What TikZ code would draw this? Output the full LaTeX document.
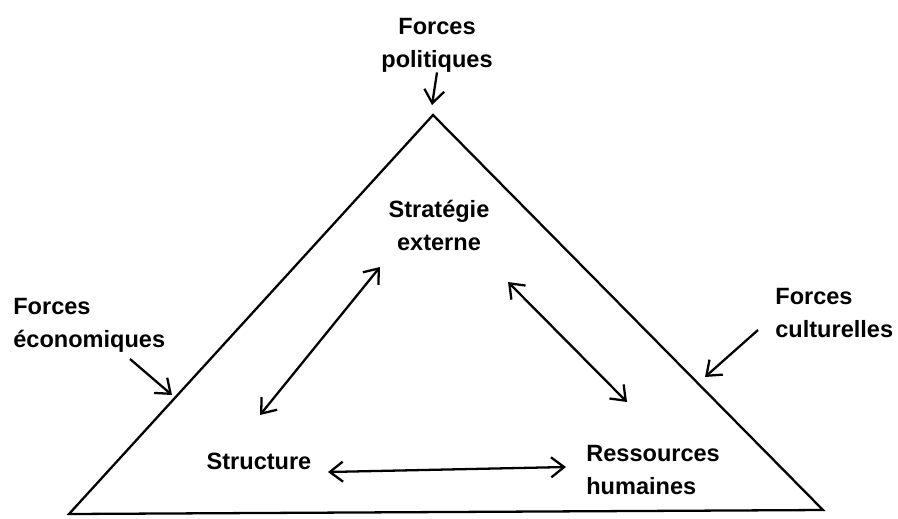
\documentclass[tikz,border=0pt]{standalone}
\usepackage{fontspec}
\setmainfont{Liberation Sans}
\usepackage{tikz}
\usetikzlibrary{arrows.meta}
\tikzset{
  frame/.style={line width=1.3pt, draw=black, line join=miter},
  push/.style={-{Straight Barb[length=2.6mm, width=4mm, line width=1.3pt]}, line width=1.3pt},
  link/.style={{Straight Barb[length=2.6mm, width=4mm, line width=1.3pt]}-{Straight Barb[length=2.6mm, width=4mm, line width=1.3pt]}, line width=1.3pt},
  force/.style={inner sep=0pt, font=\fontsize{13.4}{18.8}\selectfont\bfseries},
  pole/.style={inner sep=0pt, font=\fontsize{13.4}{18.8}\selectfont\bfseries}
}
\begin{document}
\begin{tikzpicture}[x=0.02cm, y=-0.02cm]
  \useasboundingbox (0,0) rectangle (898,518);
  % triangle
  \coordinate (apex) at (433,115);
  \coordinate (left) at (69,514);
  \coordinate (right) at (823,510);
  \draw[frame] (apex) -- (left) -- (right) -- cycle;
  % outside forces
  \node[force, align=center] (politiques) at (437,45) {Forces\\politiques};
  \node[force, align=left, anchor=west] (economiques) at (13,325) {Forces\\économiques};
  \node[force, align=left, anchor=west] (culturelles) at (775,313) {Forces\\culturelles};
  % inside poles
  \node[pole, align=center] (strategie) at (439,225) {Stratégie\\externe};
  \node[pole] (structure) at (259,461) {Structure};
  \node[pole, align=left, anchor=west] (ressources) at (586,470) {Ressources\\humaines};
  % arrow ends
  \coordinate (pol-end) at (432,105);
  \coordinate (eco-start) at (130,359);
  \coordinate (eco-end) at (172,395);
  \coordinate (cul-start) at (758,330);
  \coordinate (cul-end) at (705,377);
  \coordinate (strat-sw) at (380,267);
  \coordinate (strat-se) at (508,282);
  \coordinate (struct-n) at (260,415);
  \coordinate (struct-e) at (328,472);
  \coordinate (res-n) at (627,402);
  \coordinate (res-w) at (566,467);
  \draw[push] (politiques.south) -- (pol-end);
  \draw[push] (eco-start) -- (eco-end);
  \draw[push] (cul-start) -- (cul-end);
  \draw[link] (strat-sw) -- (struct-n);
  \draw[link] (strat-se) -- (res-n);
  \draw[link] (struct-e) -- (res-w);
\end{tikzpicture}
\end{document}
